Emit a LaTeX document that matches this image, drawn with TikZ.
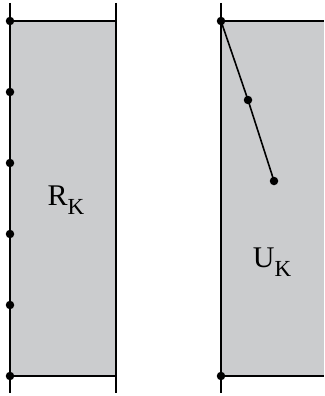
\documentclass[tikz,border=0pt]{standalone}
\usepackage{fontspec}
\setmainfont{Liberation Serif}
\definecolor{fillgray}{RGB}{203,204,206}
\tikzset{
  dot/.style={circle,fill=black,inner sep=0pt,minimum size=8.5pt},
  edge/.style={line width=1.6pt},
  lbl/.style={font=\fontsize{30}{34}\selectfont,inner sep=0pt}
}
\begin{document}
\begin{tikzpicture}[x=1pt,y=-1pt]
\useasboundingbox (0,0) rectangle (324,396);
% left region
\fill[fillgray] (10,21) rectangle (116,376);
\fill[fillgray] (221,21) rectangle (324,376);
\coordinate (lt) at (10,3);
\coordinate (lb) at (10,393);
\coordinate (rt) at (116,3);
\coordinate (rb) at (116,393);
\draw[edge] (lt) -- (lb);
\draw[edge] (rt) -- (rb);
\node[dot] (a1) at (10,21) {};
\node[dot] (a2) at (10,92) {};
\node[dot] (a3) at (10,163) {};
\node[dot] (a4) at (10,234) {};
\node[dot] (a5) at (10,305) {};
\node[dot] (a6) at (10,376) {};
\coordinate (a1r) at (116,21);
\coordinate (a6r) at (116,376);
\draw[edge] (a1.center) -- (a1r);
\draw[edge] (a6.center) -- (a6r);
\node[lbl] (R) at (66,200) {R\raisebox{-0.28em}{\fontsize{23}{26}\selectfont K}};
% right region
\coordinate (ut) at (221,3);
\coordinate (ub) at (221,393);
\draw[edge] (ut) -- (ub);
\node[dot] (b1) at (221,21) {};
\node[dot] (b2) at (248,100) {};
\node[dot] (b3) at (274,181) {};
\node[dot] (b4) at (221,376) {};
\coordinate (b1r) at (324,21);
\coordinate (b4r) at (324,376);
\draw[edge] (b1.center) -- (b1r);
\draw[edge] (b4.center) -- (b4r);
\draw[edge] (b1.center) -- (b2.center) -- (b3.center);
\node[lbl] (U) at (272,262) {U\raisebox{-0.28em}{\fontsize{23}{26}\selectfont K}};
\end{tikzpicture}
\end{document}
